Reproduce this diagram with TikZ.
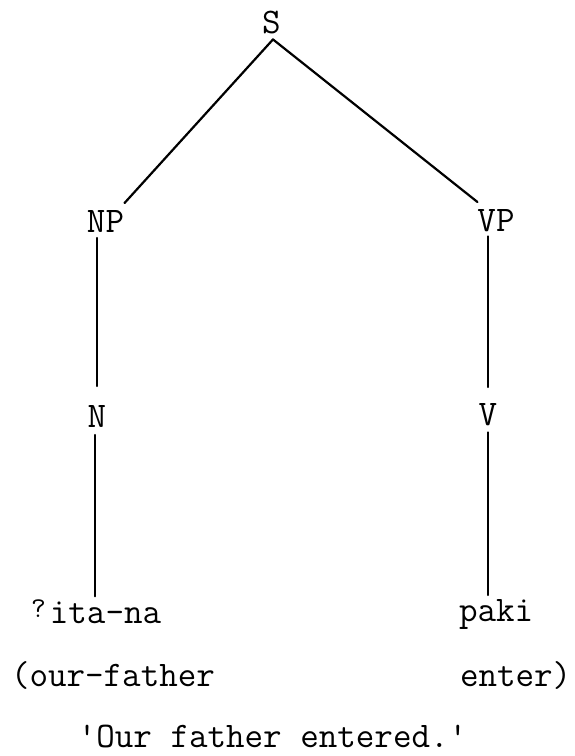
\documentclass[tikz,border=0pt]{standalone}
\usetikzlibrary{calc}
\newcommand{\glottal}{\makebox[18.9pt][l]{\raisebox{6pt}{\scalebox{0.8}{?}}}}
\begin{document}
\begin{tikzpicture}[x=1pt,y=-1pt,
  lbl/.style={font=\fontsize{36}{40}\selectfont\ttfamily, inner sep=0pt, outer sep=0pt, anchor=base},
  word/.style={lbl, anchor=base west},
  edge/.style={line width=2.2pt, line cap=round}]
\fill[white] (0,0) rectangle (575,756);
\useasboundingbox (0,0) rectangle (575,756);
% category labels
\node[lbl] (S)  at (271.5,33) {S};
\node[lbl] (NP) at (105.5,232) {NP};
\node[lbl] (VP) at (496,231) {VP};
\node[lbl] (N)  at (97,427) {N};
\node[lbl] (V)  at (488,425) {V};
% words
\node[word] (ita)    at (31,623) {\glottal ita-na};
\node[word] (paki)   at (459,621) {paki};
\node[word] (gl1)    at (11,686) {(our-father};
\node[word] (gl2)    at (460,686) {enter)};
\node[lbl]  (trans)  at (272.5,747) {'Our father entered.'};
% branches
\draw[edge] ($(S.south)+(1.5,6)$) -- ($(NP.north east)+(0.5,-7)$);
\draw[edge] ($(S.south)+(1.5,6)$) -- ($(VP.north west)+(0,-7)$);
\draw[edge] ($(N.north |- NP.south)+(0,6)$) -- ($(N.north)+(0,-19)$);
\draw[edge] ($(V.north |- VP.south)+(0,5)$) -- ($(V.north)+(0,-16)$);
\draw[edge] ($(N.south)+(-2,8)$) -- ($(N.south |- ita.north)+(-2,-3)$);
\draw[edge] ($(V.south)+(0,7)$) -- ($(V.south |- paki.north)+(0,-4)$);
\end{tikzpicture}
\end{document}
